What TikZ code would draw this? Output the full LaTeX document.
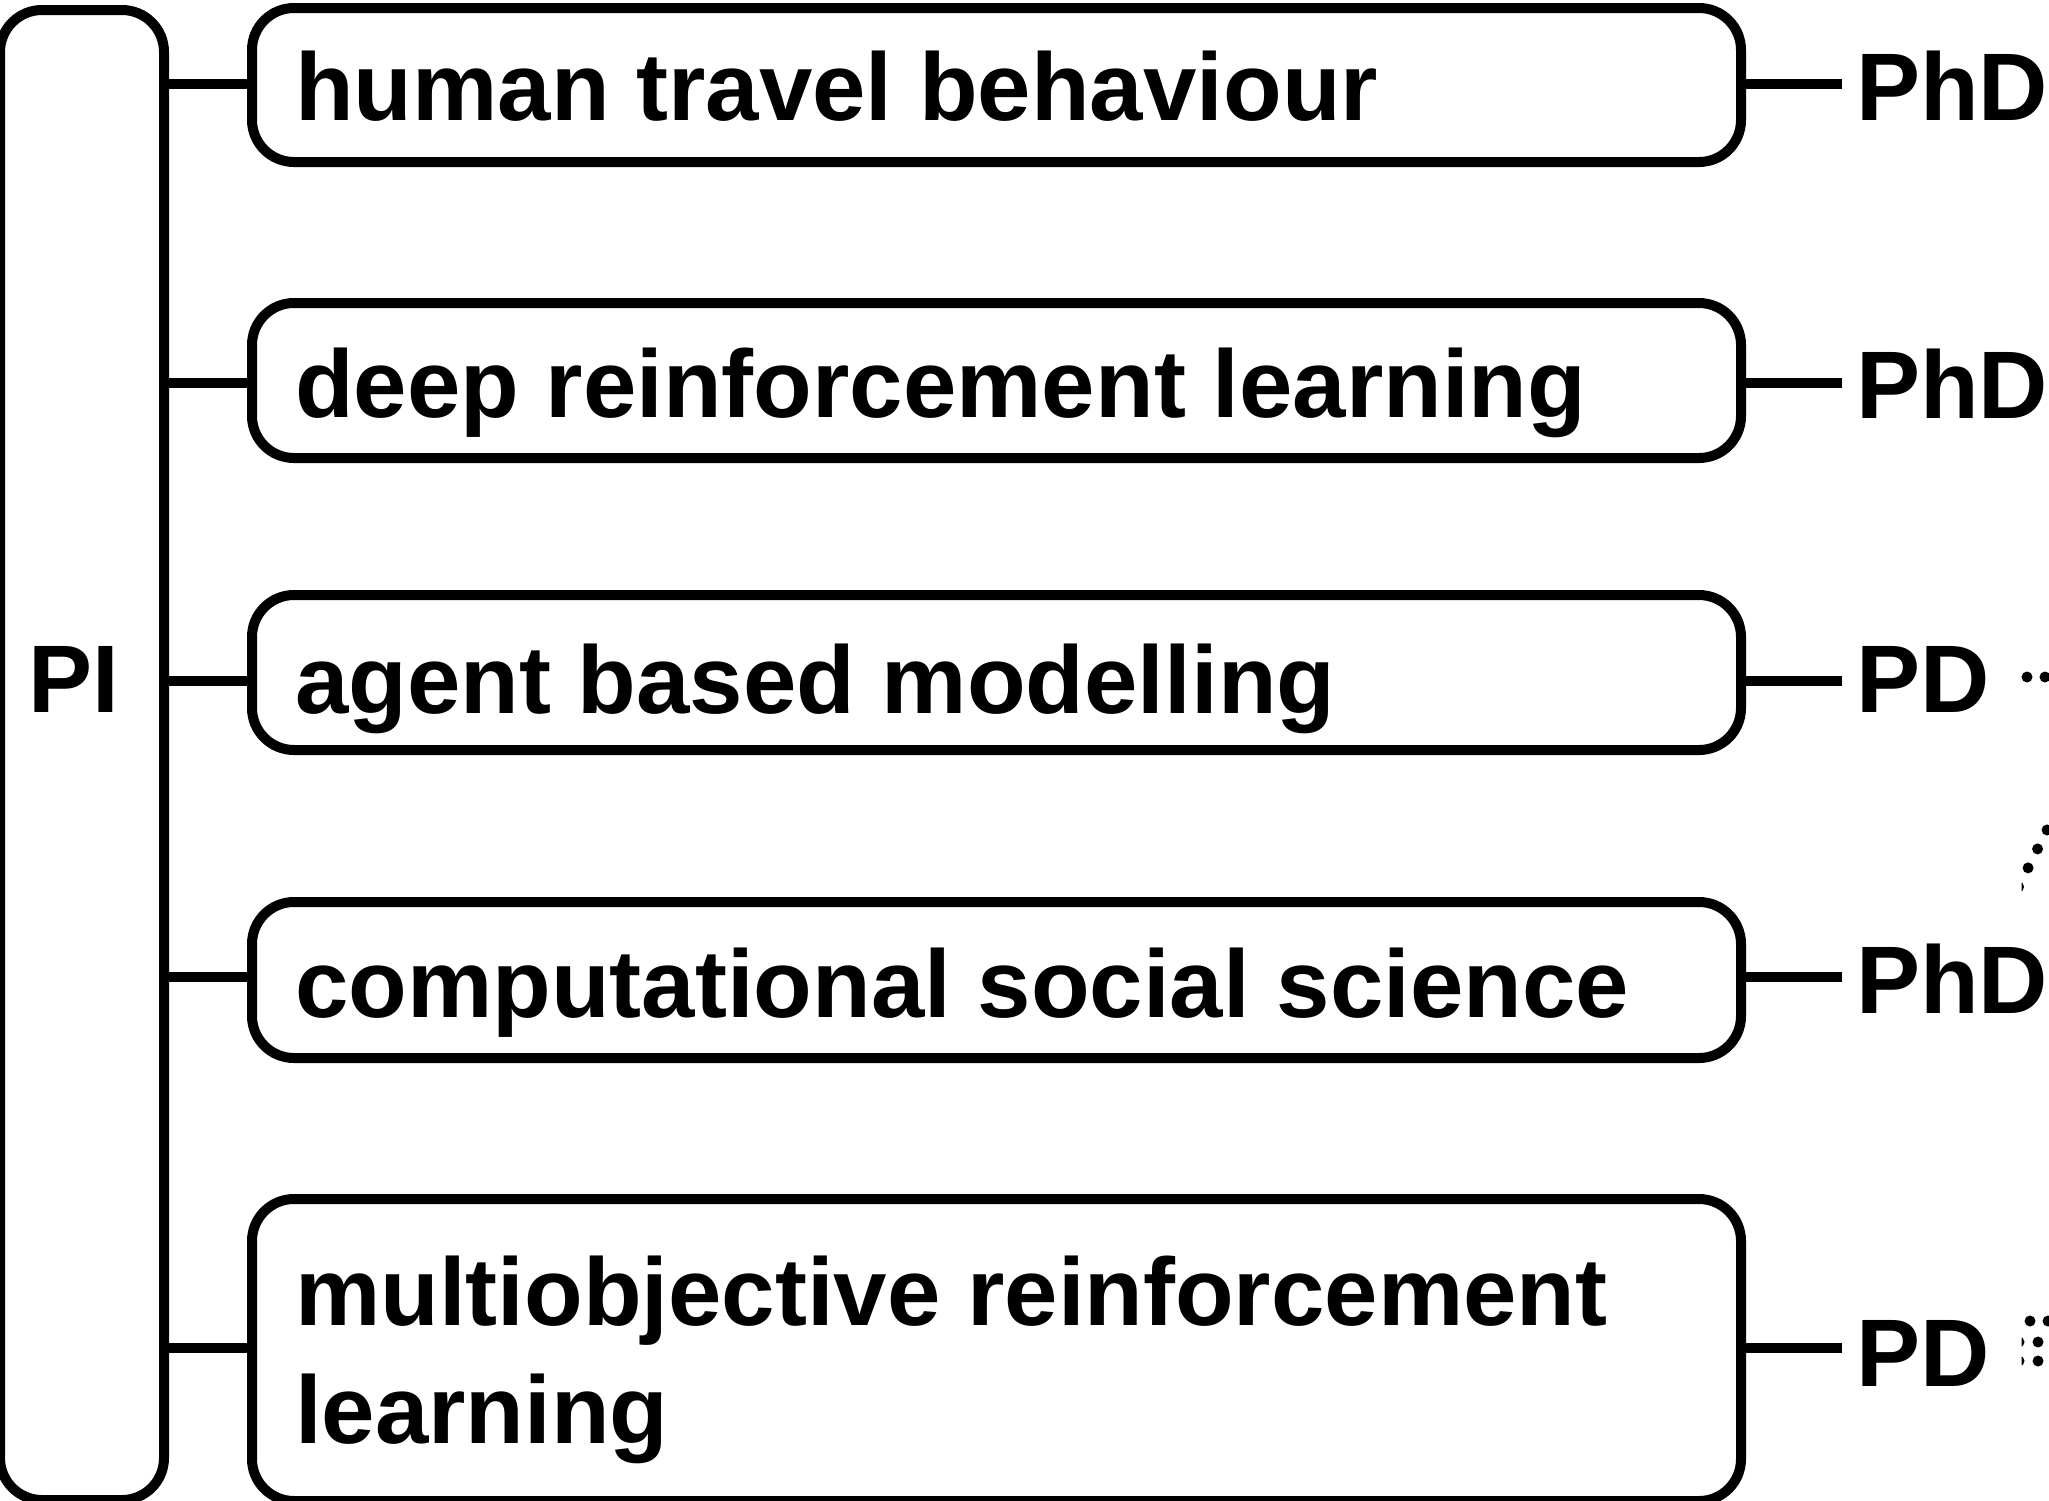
\documentclass[tikz,border=0pt]{standalone}
\usepackage{fontspec}
\setmainfont{Liberation Sans}
\begin{document}
\begin{tikzpicture}[x=1pt,y=-1pt,
  frame/.style={draw=black, line width=10pt, rounded corners=42pt,
                inner sep=0pt, outer sep=0pt},
  topicbox/.style={frame, minimum width=1489pt},
  txt/.style={anchor=base west, inner sep=0pt,
              font=\fontsize{96}{118}\selectfont\bfseries},
  degree/.style={txt, inner xsep=14pt, inner ysep=0pt},
  link/.style={draw=black, line width=10pt},
  trail/.style={draw=black, line width=11pt, line cap=round,
                dash pattern=on 0pt off 18pt}]

\clip (0,0) rectangle (2049,1500);
\fill[white] (0,0) rectangle (2049,1500);

% principal investigator column
\node[frame, minimum width=164pt, minimum height=1490pt] (pi) at (82,755) {};
\node[txt] (pitxt) at (28,712) {PI};

% research topics
\node[topicbox, minimum height=154pt] (t1) at (996.5,85) {};
\node[topicbox, minimum height=155pt] (t2) at (996.5,380.5) {};
\node[topicbox, minimum height=155pt] (t3) at (996.5,672.5) {};
\node[topicbox, minimum height=156pt] (t4) at (996.5,980) {};
\node[topicbox, minimum height=302pt] (t5) at (996.5,1350) {};

\node[txt] (x1) at (295,120) {human travel behaviour};
\node[txt] (x2) at (295,417) {deep reinforcement learning};
\node[txt] (x3) at (295,713) {agent based modelling};
\node[txt] (x4) at (295,1017) {computational social science};
\node[txt] (x5) at (295,1325) {\parbox[t]{1400pt}{multiobjective reinforcement\\learning}};

% positions attached to each topic
\node[degree] (p1) at (1842,120) {PhD};
\node[degree] (p2) at (1842,418) {PhD};
\node[degree] (p3) at (1842,712) {PD};
\node[degree] (p4) at (1842,1013) {PhD};
\node[degree] (p5) at (1842,1386) {PD};

% connector heights
\coordinate (j1) at (0,84);
\coordinate (j2) at (0,383);
\coordinate (j3) at (0,681);
\coordinate (j4) at (0,977);
\coordinate (j5) at (0,1348);

\foreach \i in {1,...,5}{
  \draw[link] (pi.east |- j\i) -- (t\i.west |- j\i);
  \draw[link] (t\i.east |- j\i) -- (p\i.west |- j\i);
}

% dotted links leaving towards the right
\begin{scope}
  \clip (2021.5,0) rectangle (2049,1500);
  \coordinate (d3) at (2027,677);
  \coordinate (d4) at (2056.5,811);
  \coordinate (d5a) at (2030,1321);
  \coordinate (d5b) at (2019,1342);
  \coordinate (d5c) at (2019,1361);
  \draw[trail] (d3) -- ++(45,0);
  \draw[trail, dash pattern=on 0pt off 21.2pt] (d4) -- ++(-47.5,95);
  \draw[trail] (d5a) -- ++(45,0);
  \draw[trail, dash pattern=on 0pt off 19pt] (d5b) -- ++(50,0);
  \draw[trail, dash pattern=on 0pt off 19pt] (d5c) -- ++(50,0);
\end{scope}
\end{tikzpicture}
\end{document}
